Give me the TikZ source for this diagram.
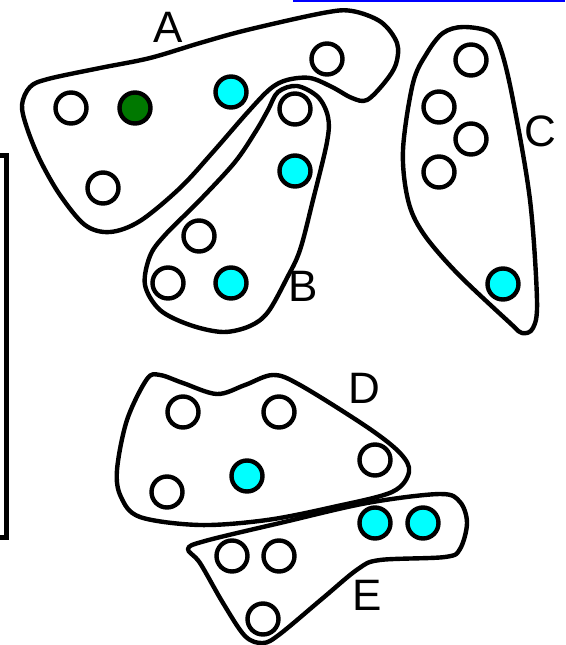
\documentclass[tikz,border=0pt]{standalone}
\usepackage{fontspec}
\setmainfont{Liberation Sans}
\usetikzlibrary{positioning}
\definecolor{dotcyan}{RGB}{0, 255, 255}
\definecolor{dotgreen}{RGB}{0, 120, 0}

\begin{document}
\begin{tikzpicture}[x=1pt, y=-1pt]
                \tikzstyle{dot}=[circle, draw=black, line width=4.4pt, fill=white, minimum size=31pt, inner sep=0pt]
                \tikzstyle{blob}=[draw=black, line width=4.4pt, line join=round]
                \tikzstyle{grplabel}=[inner sep=0pt, font=\fontsize{44}{44}\selectfont]
                \useasboundingbox (0,0) rectangle (565,645);

                % Top rule and left bracket
                \draw[blue, line width=1.5pt] (293,0.8) -- (565,0.8);
                \draw[line width=4.5pt, line cap=rect] (0,155.5) -- (6.5,155.5) -- (6.5,537.5) -- (0,537.5);

                % Cluster outlines
                \draw[blob] plot[smooth cycle, tension=0.55] coordinates {
                    (22,105) (30,87) (48,79) (100,68) (150,58) (200,43) (247,30) (323,13) (352,11)
                    (381,22) (397,43) (396,64) (385,82) (367,100) (352,98) (332,87) (310,78)
                    (287,80) (270,89) (247,113) (213,152) (180,188) (140,221) (110,232) (85,225)
                    (60,195) (40,160) (27,128)};
                \draw[blob] plot[smooth cycle, tension=0.55] coordinates {
                    (268,110) (278,92) (297,86) (318,97) (328,117) (327,142) (313,200) (300,250)
                    (287,278) (268,312) (250,326) (223,332) (190,325) (160,310) (145,285) (150,256)
                    (165,235) (200,200) (235,162) (256,131)};
                \draw[blob] plot[smooth cycle, tension=0.55] coordinates {
                    (463,27) (490,32) (501,50) (513,100) (530,200) (537,300) (533,328) (522,333)
                    (510,323) (457,273) (423,233) (408,200) (403,150) (413,83) (427,53) (443,33)};
                \draw[blob] plot[smooth cycle, tension=0.55] coordinates {
                    (160,375) (183,383) (217,394) (245,385) (273,375) (300,385) (367,427) (400,453)
                    (409,472) (392,492) (333,507) (267,520) (200,525) (140,517) (121,497) (117,470)
                    (127,420) (147,379)};
                \draw[blob] plot[smooth cycle, tension=0.55] coordinates {
                    (188,549) (205,541) (280,523) (367,503) (440,494) (460,502) (467,523) (460,549)
                    (445,557) (380,560) (358,569) (323,598) (280,634) (263,643) (245,636) (223,603)
                    (200,563)};

                % Group A
                \foreach \x/\y/\name in {71/108/a1,103/188/a3,327/59/a5} {
                    \node[dot] (\name) at (\x,\y) {};
                }
                \node[dot, fill=dotgreen] (a2) at (135,108) {};
                \node[dot, fill=dotcyan] (a4) at (231,92) {};
                \node[grplabel] (lblA) at (168,27) {A};

                % Group B
                \foreach \x/\y/\name in {295/109/b1,199/236/b3,168/283/b4} {
                    \node[dot] (\name) at (\x,\y) {};
                }
                \foreach \x/\y/\name in {295/171/b2,231/283/b5} {
                    \node[dot, fill=dotcyan] (\name) at (\x,\y) {};
                }
                \node[grplabel] (lblB) at (303,286) {B};

                % Group C
                \foreach \x/\y/\name in {471/60/c1,439/107/c2,471/139/c3,439/172/c4} {
                    \node[dot] (\name) at (\x,\y) {};
                }
                \node[dot, fill=dotcyan] (c5) at (503,284) {};
                \node[grplabel] (lblC) at (540,131) {C};

                % Group D
                \foreach \x/\y/\name in {183/412/d1,279/412/d2,375/460/d3,167/492/d5} {
                    \node[dot] (\name) at (\x,\y) {};
                }
                \node[dot, fill=dotcyan] (d4) at (247,476) {};
                \node[grplabel] (lblD) at (364,388) {D};

                % Group E
                \foreach \x/\y/\name in {232/556/e3,279/556/e4,263/619/e5} {
                    \node[dot] (\name) at (\x,\y) {};
                }
                \foreach \x/\y/\name in {375/523/e1,423/523/e2} {
                    \node[dot, fill=dotcyan] (\name) at (\x,\y) {};
                }
                \node[grplabel] (lblE) at (367,595) {E};
            \end{tikzpicture}
\end{document}
